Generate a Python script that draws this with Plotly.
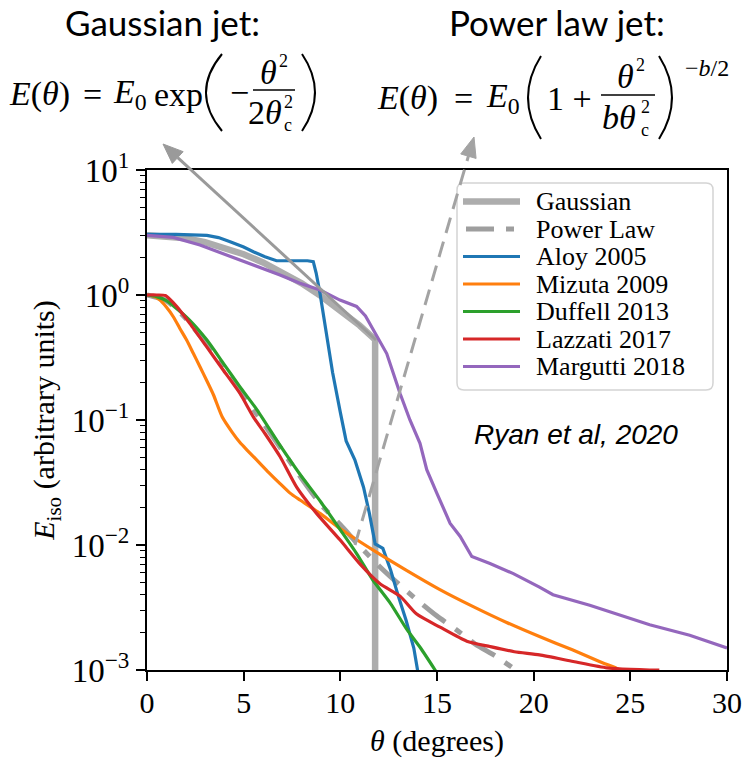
import plotly.graph_objects as go

# ---------------- data ----------------
theta_gauss = [0, 1, 2, 3, 4, 5, 6, 7, 8, 9, 10, 11, 11.8, 11.8]
E_gauss = [3.0, 2.96, 2.84, 2.65, 2.40, 2.12, 1.82, 1.52, 1.24, 0.98, 0.76, 0.57, 0.44, 0.0008]

theta_pl = [0, 1, 2, 3, 4, 5, 6, 7, 8, 9, 10, 11, 12, 13, 14, 15, 16, 17, 18, 19, 19.5]
E_pl = [1.0, 0.9, 0.65, 0.42, 0.26, 0.156, 0.095, 0.057, 0.034, 0.021, 0.0145, 0.0098,
        0.0068, 0.0049, 0.0036, 0.0027, 0.0021, 0.0016, 0.0013, 0.00102, 0.0009]

theta_aloy = [0, 1.5, 3.1, 3.7, 4.3, 5.0, 5.5, 6.1, 6.7, 8.3, 8.6, 8.75, 8.95, 9.3, 9.6, 10.0,
              10.3, 10.75, 11.2, 11.5, 11.8, 12.2, 12.6, 13.0, 13.4, 13.8, 14.0, 14.1]
E_aloy = [3.05, 3.05, 3.0, 2.88, 2.67, 2.42, 2.22, 2.02, 1.88, 1.88, 1.85, 1.5, 1.03, 0.46, 0.24,
          0.115, 0.068, 0.048, 0.029, 0.018, 0.0102, 0.0094, 0.0063, 0.0039, 0.0025, 0.0015,
          0.001, 0.0008]

theta_mizuta = [0, 0.3, 0.67, 1.0, 1.36, 1.7, 2.05, 2.4, 2.74, 3.1, 3.43, 3.9, 4.4, 4.81, 5.2,
                5.67, 6.3, 6.88, 7.4, 7.91, 8.95, 10.0, 11.7, 13.4, 15.15, 16.9, 18.6, 20.3,
                22.0, 23.4, 24.3, 24.8]
E_mizuta = [1.0, 0.98, 0.91, 0.8, 0.67, 0.54, 0.436, 0.34, 0.267, 0.205, 0.16, 0.105, 0.08,
            0.066, 0.057, 0.048, 0.038, 0.031, 0.026, 0.0229, 0.0179, 0.0135, 0.0091, 0.0063,
            0.0044, 0.0032, 0.0024, 0.00185, 0.00145, 0.00117, 0.00103, 0.00095]

theta_duffell = [0, 0.5, 1.0, 1.4, 2.2, 3.1, 3.95, 4.8, 5.7, 6.9, 7.9, 9.0, 10.0, 10.85, 11.7,
                 12.6, 13.45, 14.15, 14.9, 15.3]
E_duffell = [1.0, 0.97, 0.9, 0.81, 0.63, 0.436, 0.284, 0.185, 0.12, 0.062, 0.037, 0.022, 0.0132,
             0.0085, 0.0052, 0.0034, 0.0021, 0.0015, 0.001, 0.0008]

theta_lazzati = [0, 0.5, 0.95, 1.53, 2.22, 3.08, 3.95, 4.81, 5.5, 6.1, 6.88, 7.74, 8.77, 9.98,
                 11.0, 12.05, 13.09, 13.95, 15.16, 16.54, 17.74, 19.0, 20.3, 22.05, 23.8, 25.0,
                 26.0, 26.5]
E_lazzati = [1.0, 1.0, 0.99, 0.81, 0.59, 0.386, 0.25, 0.163, 0.106, 0.078, 0.051, 0.029, 0.0179,
             0.011, 0.0071, 0.0049, 0.0039, 0.0028, 0.0022, 0.0017, 0.00154, 0.0014, 0.00132,
             0.00117, 0.00104, 0.00101, 0.001, 0.001]

theta_margutti = [0, 1.36, 2.74, 4.12, 5.5, 6.88, 7.91, 8.95, 9.98, 10.84, 11.3, 11.7, 12.4,
                  13.09, 13.6, 14.12, 14.47, 14.99, 15.68, 16.2, 16.8, 17.74, 18.95, 20.3, 21.0,
                  22.9, 24.6, 26.0, 28.07, 30.0]
E_margutti = [3.0, 2.89, 2.51, 2.09, 1.74, 1.445, 1.24, 1.096, 0.91, 0.81, 0.68, 0.525, 0.34,
              0.163, 0.1, 0.065, 0.04, 0.026, 0.0149, 0.0117, 0.0081, 0.0071, 0.0059, 0.0046,
              0.004, 0.0033, 0.0027, 0.0023, 0.0019, 0.0015]

series_names = ["Gaussian", "Power Law", "Aloy 2005", "Mizuta 2009", "Duffell 2013",
                "Lazzati 2017", "Margutti 2018"]
x_ticks = [0, 5, 10, 15, 20, 25, 30]
y_ticks = [0.001, 0.01, 0.1, 1, 10]
y_ticktext = ["10<sup>−3</sup>", "10<sup>−2</sup>", "10<sup>−1</sup>", "10<sup>0</sup>",
              "10<sup>1</sup>"]

# ---------------- styles ----------------
GAUSS_C = "#adadad"
PL_C = "#9e9e9e"
PL_DASH = "28px,12px,8px,12px"
colors = ["#1f77b4", "#ff7f0e", "#2ca02c", "#d62728", "#9467bd"]
styles = [
    dict(color=GAUSS_C, width=6.5),
    dict(color=PL_C, width=5, dash=PL_DASH),
] + [dict(color=c, width=3.2) for c in colors]
shapes_mode = ["linear", "spline", "linear", "spline", "spline", "spline", "linear"]

W, H = 742, 764
L, R, T, B = 147, 727, 170, 670
SERIF = "Liberation Serif"


def px(x):
    return (x - L) / (R - L)


def py(y):
    return (B - y) / (B - T)


fig = go.Figure()
data = [(theta_gauss, E_gauss), (theta_pl, E_pl), (theta_aloy, E_aloy),
        (theta_mizuta, E_mizuta), (theta_duffell, E_duffell), (theta_lazzati, E_lazzati),
        (theta_margutti, E_margutti)]
for name, (xs, ys), st, mode in zip(series_names, data, styles, shapes_mode):
    line = dict(st)
    line["shape"] = mode
    if mode == "spline":
        line["smoothing"] = 0.6
    fig.add_trace(go.Scatter(x=xs, y=ys, mode="lines", name=name, line=line,
                             showlegend=False, hoverinfo="skip"))

shapes = []
annotations = []


def text(t, x, y, size, family=SERIF, xanchor="center", color="black", italic=False):
    annotations.append(dict(text=t, x=px(x), y=py(y), xref="paper", yref="paper",
                            showarrow=False, xanchor=xanchor, yanchor="middle",
                            borderpad=0,
                            font=dict(family=family, size=size, color=color,
                                      style="italic" if italic else "normal")))


def seg(x0, y0, x1, y1, color, width, dash=None):
    ln = dict(color=color, width=width)
    if dash:
        ln["dash"] = dash
    shapes.append(dict(type="line", xref="paper", yref="paper", x0=px(x0), y0=py(y0),
                       x1=px(x1), y1=py(y1), line=ln, layer="above"))


def paren(xe, xm, y0, y1, width=2.0):
    ctrl = 2 * xm - xe
    ym = (y0 + y1) / 2
    path = f"M {px(xe)},{py(y0)} Q {px(ctrl)},{py(ym)} {px(xe)},{py(y1)}"
    shapes.append(dict(type="path", xref="paper", yref="paper", path=path,
                       line=dict(color="black", width=width), layer="above"))


def arrow(tail, tip, color, width, dash=None, hl=20, hw=8):
    dx, dy = tip[0] - tail[0], tip[1] - tail[1]
    n = (dx * dx + dy * dy) ** 0.5
    ux, uy = dx / n, dy / n
    bx, by = tip[0] - hl * ux, tip[1] - hl * uy
    seg(tail[0], tail[1], bx, by, color, width, dash)
    nx, ny = -uy, ux
    p1 = (bx + hw * nx, by + hw * ny)
    p2 = (bx - hw * nx, by - hw * ny)
    path = (f"M {px(tip[0])},{py(tip[1])} L {px(p1[0])},{py(p1[1])} "
            f"L {px(p2[0])},{py(p2[1])} Z")
    shapes.append(dict(type="path", xref="paper", yref="paper", path=path,
                       fillcolor=color, line=dict(color=color, width=1), layer="above"))


# ---------------- legend (drawn manually) ----------------
lx0, ly0, lx1, ly1, rr = 457, 183, 713, 390, 7
legend_path = (f"M {px(lx0 + rr)},{py(ly0)} L {px(lx1 - rr)},{py(ly0)} "
               f"Q {px(lx1)},{py(ly0)} {px(lx1)},{py(ly0 + rr)} "
               f"L {px(lx1)},{py(ly1 - rr)} Q {px(lx1)},{py(ly1)} {px(lx1 - rr)},{py(ly1)} "
               f"L {px(lx0 + rr)},{py(ly1)} Q {px(lx0)},{py(ly1)} {px(lx0)},{py(ly1 - rr)} "
               f"L {px(lx0)},{py(ly0 + rr)} Q {px(lx0)},{py(ly0)} {px(lx0 + rr)},{py(ly0)} Z")
shapes.append(dict(type="path", xref="paper", yref="paper", path=legend_path,
                   fillcolor="rgba(255,255,255,0.85)", line=dict(color="#d4d4d4", width=1.5),
                   layer="above"))
row_y = [201.5, 229, 256.5, 284, 311.5, 339, 366.5]
for name, st, yy in zip(series_names, styles, row_y):
    x0 = 463 if name != "Power Law" else 466
    seg(x0, yy, 520, yy, st["color"], st["width"], st.get("dash"))
    text(name, 535, yy, 26, xanchor="left")

# ---------------- arrows ----------------
arrow((376, 340), (163, 144), "#9a9a9a", 3)
arrow((355, 545), (474, 137), "#a3a3a3", 3, dash="16px,9px")

# ---------------- top texts & formulas ----------------
text("Gaussian jet:", 162, 22, 35, family="Lato")
text("Power law jet:", 557, 22, 35, family="Lato")

FS = 34
SUP = 18
# Gaussian formula
text("<i>E</i>(<i>θ</i>)", 8, 94, FS, xanchor="left")
text("=", 92, 94, FS)
text("<i>E</i><sub>0</sub>", 112, 94, FS, xanchor="left")
text("exp", 153, 94, FS, xanchor="left")
paren(222, 206, 54, 131)
text("−", 239, 92, FS)
text("<i>θ</i>", 268, 72, FS)
text("2", 283, 61, SUP)
seg(253, 90, 295, 90, "black", 1.5)
text("2<i>θ</i>", 265, 113, FS)
text("2", 288, 102, SUP)
text("c", 288, 125, SUP)
paren(302, 315, 54, 131)

# Power law formula
text("<i>E</i>(<i>θ</i>)", 376, 98, FS, xanchor="left")
text("=", 463, 98, FS)
text("<i>E</i><sub>0</sub>", 485, 98, FS, xanchor="left")
paren(541, 528, 56, 139)
text("1 +", 569, 98, FS)
text("<i>θ</i>", 625, 76, FS)
text("2", 640, 65, SUP)
seg(601, 95, 655, 95, "black", 1.5)
text("<i>bθ</i>", 619, 118, FS)
text("2", 645, 107, SUP)
text("c", 645, 130, SUP)
paren(659, 672, 56, 139)
text("−<i>b</i>/2", 707, 68, 24)

# citation
text("Ryan et al, 2020", 576, 434, 28, family="Liberation Sans", italic=True)

axis_common = dict(showline=True, linecolor="black", linewidth=2, mirror=True,
                   ticks="outside", tickcolor="black", tickwidth=1.5, ticklen=9,
                   showgrid=False, zeroline=False, automargin=False,
                   ticklabeloverflow="allow")

fig.update_layout(
    template="none",
    width=W, height=H,
    margin=dict(l=L, r=W - R, t=T, b=H - B, pad=0),
    paper_bgcolor="white", plot_bgcolor="white",
    showlegend=False,
    font=dict(family=SERIF, color="black"),
    xaxis=dict(range=[0, 30], tickvals=x_ticks, ticktext=[str(v) for v in x_ticks],
               tickfont=dict(family=SERIF, size=30, color="black"),
               ticklabelstandoff=-4,
               title=dict(text="<i>θ</i> (degrees)", font=dict(family=SERIF, size=30),
                          standoff=12),
               **axis_common),
    yaxis=dict(type="log", range=[-3, 1], tickvals=y_ticks, ticktext=y_ticktext,
               tickfont=dict(family=SERIF, size=33, color="black"),
               minor=dict(ticks="outside", ticklen=5, tickwidth=1.2, tickcolor="black",
                          dtick="D1", showgrid=False),
               title=dict(text="<i>E</i><sub>iso</sub> (arbitrary units)",
                          font=dict(family=SERIF, size=30), standoff=8),
               **axis_common),
    shapes=shapes,
    annotations=annotations,
)

fig.write_html("out.html")
